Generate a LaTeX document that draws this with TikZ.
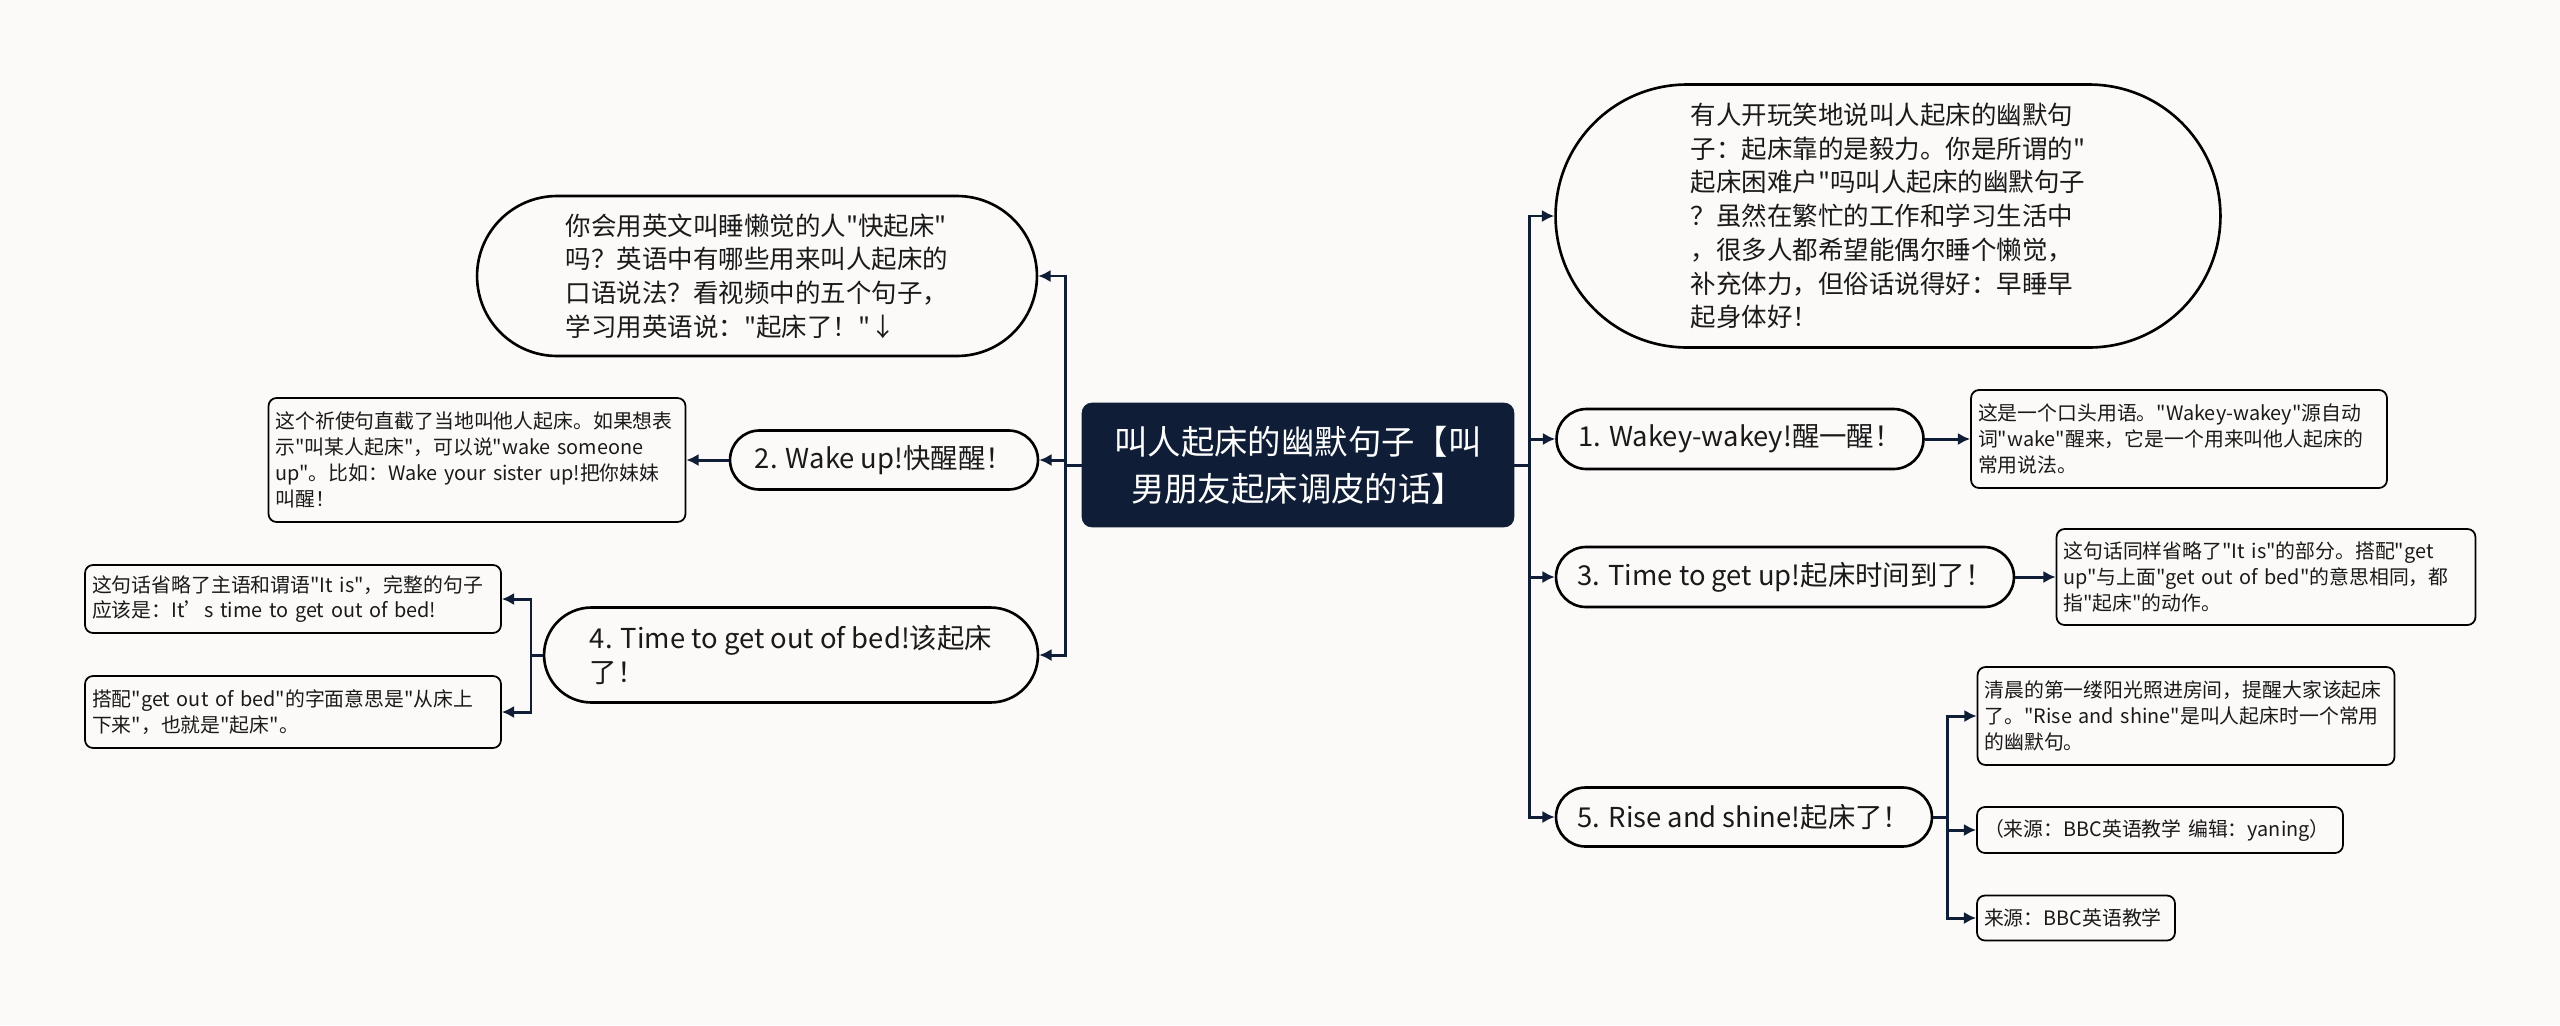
\documentclass[tikz,border=0pt]{standalone}
\usepackage{fontspec}
\setmainfont{Noto Sans CJK SC}[Ligatures=TeXOff]
\usetikzlibrary{arrows.meta,shapes.misc}
\definecolor{bgc}{HTML}{FCFAF9}
\definecolor{navy}{HTML}{0F1E36}
\definecolor{ink}{HTML}{1A1A1A}

\begin{document}
\begin{tikzpicture}[x=0.02cm,y=-0.02cm,
 line/.style={navy,line width=1.7pt},
 arr/.style={line,-{Latex[length=7pt,width=7pt]}},
 root/.style={fill=navy,draw=navy,rounded corners=0.2cm,text=white,align=center,inner sep=0pt,font=\fontsize{19}{26.6}\selectfont},
 pill/.style={rounded rectangle,draw=black,line width=1.5pt,fill=bgc,text=ink,align=left,inner sep=0pt},
 intro/.style={pill,font=\fontsize{14.5}{19.2}\selectfont},
 branch/.style={pill,font=\fontsize{15.6}{19.8}\selectfont},
 leaf/.style={draw=black,line width=1pt,fill=bgc,rounded corners=0.16cm,text=ink,align=left,inner xsep=0.14cm,inner ysep=0pt,font=\fontsize{11.3}{14.7}\selectfont}]
\fill[bgc] (0,0) rectangle (2560,1025);
\useasboundingbox (0,0) rectangle (2560,1025);

\node[root,minimum width=8.64cm,minimum height=2.48cm] (root) at (1298,465) {叫人起床的幽默句子【叫\\男朋友起床调皮的话】};

\node[intro,minimum width=13.3cm,minimum height=5.26cm] (introR) at (1888,216) {有人开玩笑地说叫人起床的幽默句\\子：起床靠的是毅力。你是所谓的"\\起床困难户"吗叫人起床的幽默句子\\？虽然在繁忙的工作和学习生活中\\，很多人都希望能偶尔睡个懒觉，\\补充体力，但俗话说得好：早睡早\\起身体好！};
\node[branch,minimum width=7.34cm,minimum height=1.2cm] (n1) at (1740,439) {1. Wakey-wakey!醒一醒！};
\node[branch,minimum width=9.16cm,minimum height=1.2cm] (n3) at (1785,577) {3. Time to get up!起床时间到了！};
\node[branch,minimum width=7.52cm,minimum height=1.18cm] (n5) at (1744,817) {5. Rise and shine!起床了！};
\node[leaf,text width=8.04cm,minimum height=1.96cm] (l1) at (2179,439) {这是一个口头用语。"Wakey-wakey"源自动\\词"wake"醒来，它是一个用来叫他人起床的\\常用说法。};
\node[leaf,text width=8.10cm,minimum height=1.92cm] (l3) at (2266,577) {这句话同样省略了"It is"的部分。搭配"get\\up"与上面"get out of bed"的意思相同，都\\指"起床"的动作。};
\node[leaf,text width=8.06cm,minimum height=1.96cm] (l5a) at (2186,716) {清晨的第一缕阳光照进房间，提醒大家该起床\\了。"Rise and shine"是叫人起床时一个常用\\的幽默句。};
\node[leaf,text width=7.04cm,minimum height=0.92cm] (l5b) at (2160,830) {（来源：BBC英语教学 编辑：yaning）};
\node[leaf,text width=3.68cm,minimum height=0.9cm] (l5c) at (2076,918) {来源：BBC英语教学};

\node[intro,minimum width=11.2cm,minimum height=3.2cm] (introL) at (757,276) {你会用英文叫睡懒觉的人"快起床"\\吗？英语中有哪些用来叫人起床的\\口语说法？看视频中的五个句子，\\学习用英语说："起床了！"↓};
\node[branch,minimum width=6.16cm,minimum height=1.18cm] (n2) at (884,460) {2. Wake up!快醒醒！};
\node[branch,minimum width=9.88cm,minimum height=1.9cm] (n4) at (791,655) {4. Time to get out of bed!该起床\\了！};
\node[leaf,text width=8.06cm,minimum height=2.48cm] (l2) at (477,460) {这个祈使句直截了当地叫他人起床。如果想表\\示"叫某人起床"，可以说"wake someone\\up"。比如：Wake your sister up!把你妹妹\\叫醒！};
\node[leaf,text width=8.04cm,minimum height=1.36cm] (l4a) at (293,599) {这句话省略了主语和谓语"It is"，完整的句子\\应该是：It’s time to get out of bed!};
\node[leaf,text width=8.04cm,minimum height=1.44cm] (l4b) at (293,712) {搭配"get out of bed"的字面意思是"从床上\\下来"，也就是"起床"。};

\coordinate (rt) at (1529,465); \coordinate (lt) at (1065,465); \coordinate (s5) at (1947,817); \coordinate (s4) at (531,655);
\draw[line] (root.east) -- (rt); \draw[line] (root.west) -- (lt);
\draw[arr] (rt) |- (introR.west); \draw[arr] (rt) |- (n1.west); \draw[arr] (rt) |- (n3.west); \draw[arr] (rt) |- (n5.west);
\draw[arr] (lt) |- (introL.east); \draw[arr] (lt) |- (n2.east); \draw[arr] (lt) |- (n4.east);
\draw[arr] (n1.east) -- (l1.west); \draw[arr] (n3.east) -- (l3.west); \draw[arr] (n2.west) -- (l2.east);
\draw[line] (n5.east) -- (s5);
\draw[arr] (s5) |- (l5a.west); \draw[arr] (s5) |- (l5b.west); \draw[arr] (s5) |- (l5c.west);
\draw[line] (n4.west) -- (s4);
\draw[arr] (s4) |- (l4a.east); \draw[arr] (s4) |- (l4b.east);
\end{tikzpicture}
\end{document}
